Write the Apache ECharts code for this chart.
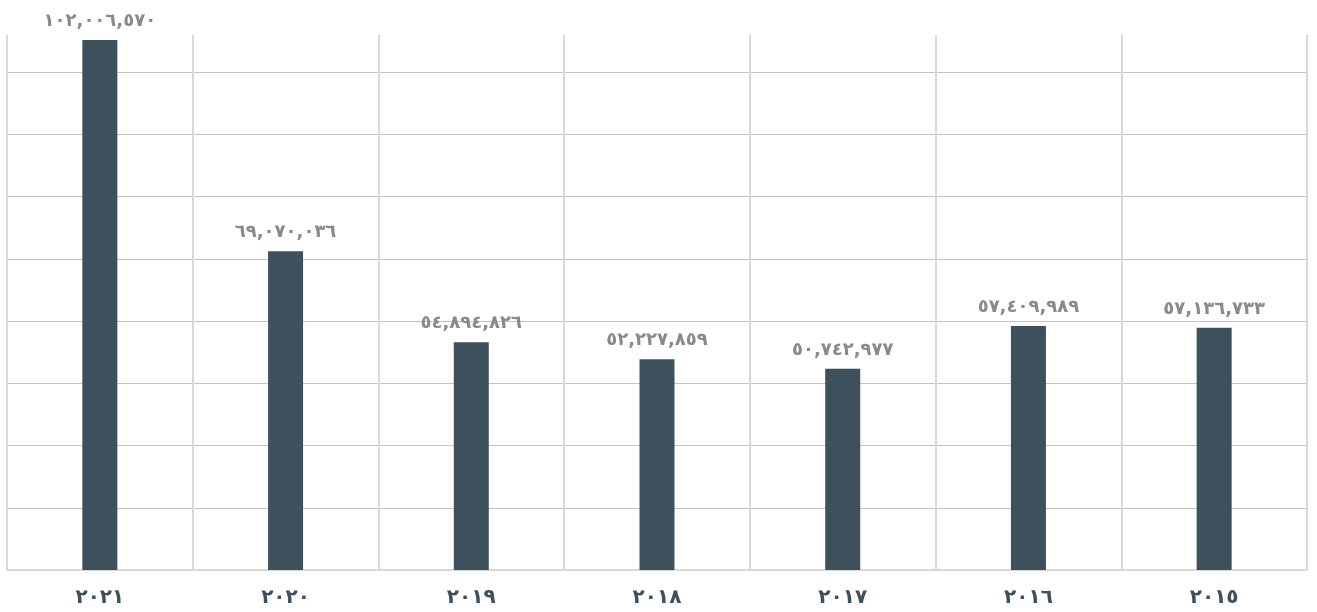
<!DOCTYPE html>
<html>
<head>
<meta charset="utf-8">
<script src="https://cdn.jsdelivr.net/npm/echarts@6/dist/echarts.min.js"></script>
<style>
  html, body { margin: 0; padding: 0; background: #ffffff; }
  #chart { width: 1317px; height: 612px; }
</style>
</head>
<body>
<div id="chart"></div>
<script>
// Years, shown right-to-left reading order from 2021 down to 2015
const categories = ['٢٠٢١', '٢٠٢٠', '٢٠١٩', '٢٠١٨', '٢٠١٧', '٢٠١٦', '٢٠١٥'];
// Yearly totals
const values = [102006570, 69070036, 54894826, 52227859, 50742977, 57409989, 57136733];

// Value axis range (hidden labels, gridlines only)
const yMin = 19400000;
const yInterval = 9700000;
const yMax = 102770000;

const arabicDigits = ['٠', '١', '٢', '٣', '٤', '٥', '٦', '٧', '٨', '٩'];
function toArabic(n) {
  const s = String(n).replace(/\B(?=(\d{3})+(?!\d))/g, ',');
  return s.replace(/\d/g, d => arabicDigits[+d]);
}

const chart = echarts.init(document.getElementById('chart'));
chart.setOption({
  animation: false,
  backgroundColor: '#ffffff',
  grid: { left: 7, right: 10, top: 35, bottom: 42, containLabel: false },
  xAxis: {
    type: 'category',
    data: categories,
    boundaryGap: true,
    axisLine: { show: true, lineStyle: { color: '#d9d9d9', width: 2 } },
    axisTick: { show: false },
    splitLine: { show: true, lineStyle: { color: '#d9d9d9', width: 2 } },
    axisLabel: {
      margin: 18,
      color: '#3e505b',
      fontSize: 20,
      fontWeight: 'bold',
      fontFamily: 'DejaVu Sans'
    }
  },
  yAxis: {
    type: 'value',
    min: yMin,
    max: yMax,
    interval: yInterval,
    axisLine: { show: false },
    axisTick: { show: false },
    axisLabel: { show: false },
    splitLine: {
      show: true,
      showMinLine: false,
      showMaxLine: false,
      lineStyle: { color: '#c4c4c4', width: 1 }
    }
  },
  series: [{
    type: 'bar',
    data: values,
    barWidth: 35,
    itemStyle: { color: '#3e505b' },
    label: {
      show: true,
      position: 'top',
      distance: 10,
      color: '#8a8a8a',
      fontSize: 18,
      fontWeight: 'bold',
      fontFamily: 'DejaVu Sans',
      formatter: p => toArabic(p.value)
    }
  }]
});
</script>
</body>
</html>
